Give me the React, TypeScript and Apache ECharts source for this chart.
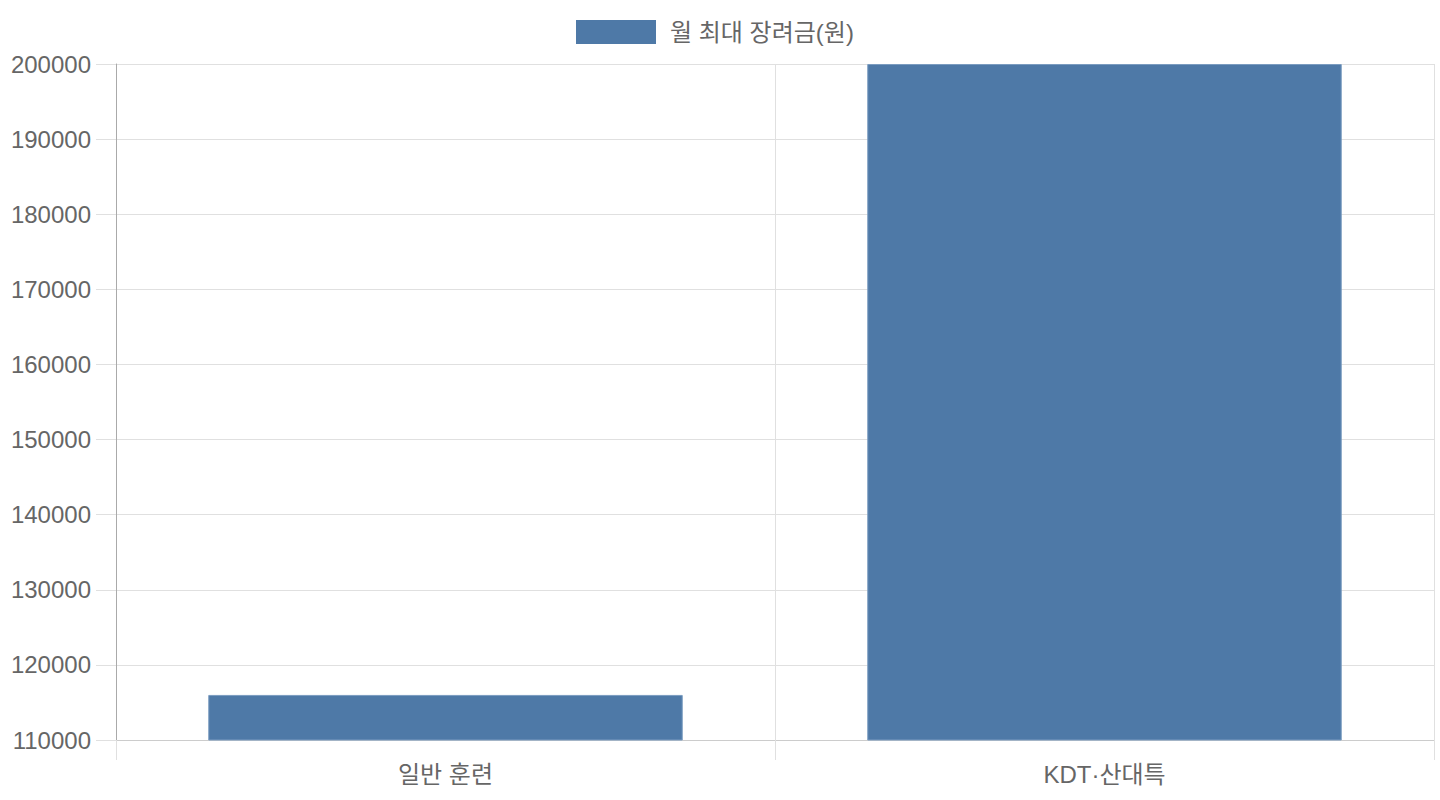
import React, { useEffect, useRef } from "react";
import * as echarts from "echarts";

const categories = ["일반 훈련", "KDT·산대특"];
const seriesName = "월 최대 장려금(원)";
const values = [116000, 200000];
const yMin = 110000;
const yMax = 200000;
const yInterval = 10000;

const FONT = "'Liberation Sans', Arial, 'Noto Sans CJK KR', sans-serif";

export default function App() {
  const ref = useRef<HTMLDivElement>(null);
  useEffect(() => {
    if (!ref.current) return;
    const chart = echarts.init(ref.current, undefined, { renderer: "svg" });
    chart.setOption({
      animation: false,
      backgroundColor: "#ffffff",
      textStyle: { fontFamily: FONT },
      legend: {
        top: 20,
        left: 576,
        padding: 0,
        itemWidth: 80,
        itemHeight: 24,
        icon: "rect",
        data: [seriesName],
        itemStyle: { borderWidth: 0 },
        textStyle: { color: "#666666", fontSize: 24, fontFamily: FONT, padding: [0, 0, 0, 9] },
      },
      grid: { left: 116, right: 6, top: 64, bottom: 60, containLabel: false },
      xAxis: {
        type: "category",
        data: categories,
        boundaryGap: true,
        axisLine: { show: true, lineStyle: { color: "#cccccc", width: 1 } },
        axisTick: { show: true, length: 20, lineStyle: { color: "#e0e0e0" } },
        axisLabel: { color: "#666666", fontSize: 24, fontFamily: FONT, margin: 22 },
        splitLine: { show: true, lineStyle: { color: "#e0e0e0", width: 1 } },
      },
      yAxis: {
        type: "value",
        min: yMin,
        max: yMax,
        interval: yInterval,
        axisLine: { show: true, lineStyle: { color: "#aaaaaa", width: 1 } },
        axisTick: { show: true, length: 20, lineStyle: { color: "#e0e0e0" } },
        axisLabel: {
          color: "#666666",
          fontSize: 24,
          fontFamily: FONT,
          margin: 25,
          formatter: (v: number) => String(v),
        },
        splitLine: { show: true, lineStyle: { color: "#e0e0e0", width: 1 } },
      },
      series: [
        {
          name: seriesName,
          type: "bar",
          data: values,
          barCategoryGap: "28%",
          itemStyle: { color: "#4e79a7", borderColor: "#7b9cc0", borderWidth: 1 },
        },
      ],
    });
    return () => chart.dispose();
  }, []);
  return (
    <div
      ref={ref}
      style={{ position: "fixed", left: 0, top: 0, width: 1440, height: 800 }}
    />
  );
}
